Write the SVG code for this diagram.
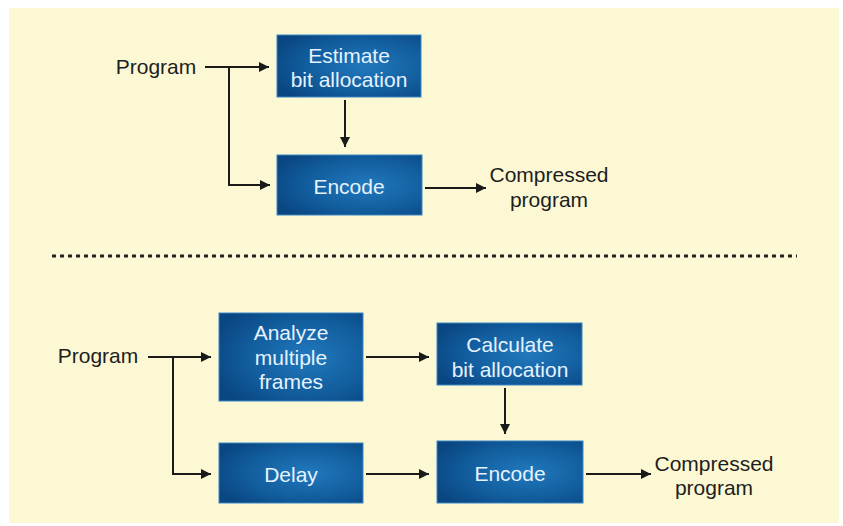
<svg xmlns="http://www.w3.org/2000/svg" width="843" height="526" viewBox="0 0 843 526">
<defs>
<radialGradient id="boxg" cx="0.62" cy="0.5" r="0.7">
<stop offset="0" stop-color="#2079bd"/>
<stop offset="0.6" stop-color="#125d9d"/>
<stop offset="1" stop-color="#094682"/>
</radialGradient>
<marker id="ah" viewBox="0 0 10 10" refX="10" refY="5" markerWidth="11" markerHeight="10" markerUnits="userSpaceOnUse" orient="auto">
<path d="M0,0 L10,5 L0,10 z" fill="#1a1a1a"/>
</marker>
<style>
.box{fill:url(#boxg);stroke:#3a86c4;stroke-width:1}
.bt{font-family:"Liberation Sans",Arial,sans-serif;font-size:21px;fill:#e6f2ff;text-anchor:middle}
.lt{font-family:"Liberation Sans",Arial,sans-serif;font-size:21px;fill:#1e1e1e;text-anchor:middle}
.ar{fill:none;stroke:#1a1a1a;stroke-width:2;marker-end:url(#ah)}
</style>
</defs>
<rect x="0" y="0" width="843" height="526" fill="#ffffff"/>
<rect x="9" y="8" width="830" height="515" fill="#fdf8d4"/>

<g id="top-program"><text class="lt" x="156" y="74">Program</text></g>
<g id="top-estimate">
<rect class="box" x="277" y="35" width="144" height="62"/>
<text class="bt" x="349" y="63">Estimate</text>
<text class="bt" x="349" y="87">bit allocation</text>
</g>
<g id="top-encode">
<rect class="box" x="277" y="155" width="145" height="60"/>
<text class="bt" x="349" y="194">Encode</text>
</g>
<g id="top-output"><text class="lt" x="549" y="182">Compressed</text><text class="lt" x="549" y="207">program</text></g>

<g id="separator"><line x1="52" y1="256" x2="797" y2="256" stroke="#222" stroke-width="3" stroke-dasharray="4 4"/></g>

<g id="bot-program"><text class="lt" x="98" y="363">Program</text></g>
<g id="bot-analyze">
<rect class="box" x="219" y="313" width="144" height="88"/>
<text class="bt" x="291" y="340">Analyze</text>
<text class="bt" x="291" y="365">multiple</text>
<text class="bt" x="291" y="389">frames</text>
</g>
<g id="bot-delay">
<rect class="box" x="219" y="443" width="144" height="60"/>
<text class="bt" x="291" y="482">Delay</text>
</g>
<g id="bot-calculate">
<rect class="box" x="437" y="323" width="145" height="62"/>
<text class="bt" x="510" y="352">Calculate</text>
<text class="bt" x="510" y="377">bit allocation</text>
</g>
<g id="bot-encode">
<rect class="box" x="437" y="441" width="146" height="62"/>
<text class="bt" x="510" y="481">Encode</text>
</g>
<g id="bot-output"><text class="lt" x="714" y="471">Compressed</text><text class="lt" x="714" y="495">program</text></g>

<g id="connectors">
<line class="ar" x1="205" y1="67" x2="269" y2="67"/>
<polyline class="ar" points="229,67 229,185 270,185"/>
<line class="ar" x1="345" y1="100" x2="345" y2="147"/>
<line class="ar" x1="425" y1="188" x2="486" y2="188"/>
<line class="ar" x1="148" y1="357" x2="211" y2="357"/>
<polyline class="ar" points="173,357 173,474 211,474"/>
<line class="ar" x1="366" y1="357" x2="429" y2="357"/>
<line class="ar" x1="366" y1="474" x2="429" y2="474"/>
<line class="ar" x1="505" y1="388" x2="505" y2="434"/>
<line class="ar" x1="586" y1="474" x2="651" y2="474"/>
</g>
</svg>
